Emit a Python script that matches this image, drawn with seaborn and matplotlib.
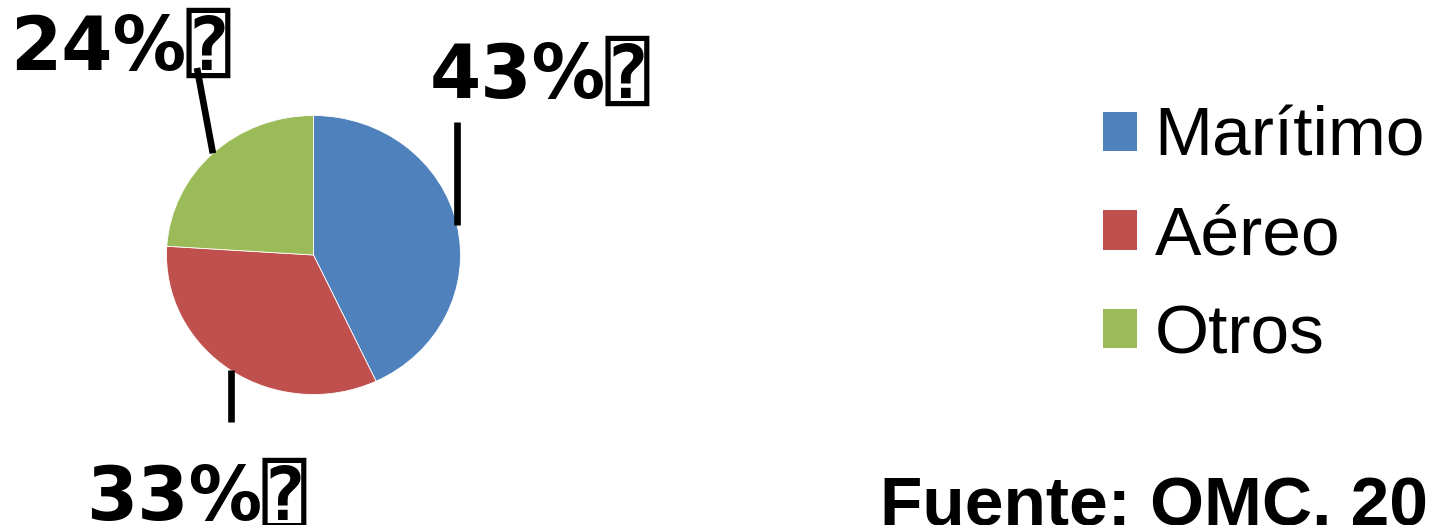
import numpy as np
import matplotlib
matplotlib.use("Agg")
import matplotlib.pyplot as plt
import seaborn as sns
from matplotlib.patches import Patch

# ---- data ----
categories = ["Marítimo", "Aéreo", "Otros"]
shares = [43, 33, 24]
labels = ["43%⍰", "33%⍰", "24%⍰"]
colors = ["#4F81BD", "#C0504D", "#9BBB59"]
source_text = "Fuente: OMC. 20"

sns.set_theme(style="white")
plt.rcParams["font.family"] = ["Liberation Sans", "DejaVu Sans"]
plt.rcParams["text.color"] = "black"
plt.rcParams["legend.labelcolor"] = "black"

W, H = 1431, 525
fig = plt.figure(figsize=(W / 100, H / 100), dpi=100)
fig.patch.set_facecolor("white")

# pie axes (slightly elliptical as in reference)
cx, cy, rx, ry = 313.5, 255.0, 147.0, 139.5
ax = fig.add_axes([(cx - rx) / W, (H - cy - ry) / H, 2 * rx / W, 2 * ry / H])
wedges, _ = ax.pie(shares, colors=colors, startangle=90, counterclock=False,
                   radius=1.0, wedgeprops=dict(linewidth=0.6, edgecolor="white"))
ax.set_xlim(-1, 1)
ax.set_ylim(-1, 1)
ax.set_aspect("auto")
ax.axis("off")

# overlay axes in pixel coordinates (origin bottom-left)
ov = fig.add_axes([0, 0, 1, 1], zorder=5)
ov.set_xlim(0, W)
ov.set_ylim(0, H)
ov.axis("off")
ov.patch.set_alpha(0)

fig.canvas.draw()
# label text anchor (left, baseline) and leader end in image pixel coords (y from top)
label_pos = [(430, 98), (86, 520), (10, 70)]
leader_end = [(None, 122), (None, 422), (197, 68)]
lab_font = ["DejaVu Sans", "DejaVu Sans Mono"]
for w, lab, (tx, ty), (ex, ey) in zip(wedges, labels, label_pos, leader_end):
    mid = np.deg2rad((w.theta1 + w.theta2) / 2)
    px, py = ax.transData.transform((np.cos(mid), np.sin(mid)))
    ex_ = px if ex is None else ex
    ov.plot([px, ex_], [py, H - ey], color="black", lw=4.8, solid_capstyle="butt")
    ov.text(tx, H - ty, lab, fontsize=53, fontweight="bold", family=lab_font,
            ha="left", va="baseline", color="black")

# legend
handles = [Patch(facecolor=c, edgecolor="none") for c in colors]
fig.legend(handles, categories, loc="upper left",
           bbox_to_anchor=(1103 / W, 1 - 106 / H), frameon=False,
           fontsize=50, handlelength=0.49, handleheight=0.49,
           handletextpad=0.25, labelspacing=0.5, borderpad=0, borderaxespad=0,
           labelcolor="black")

ov.text(880, H - 526, source_text, fontsize=50, fontweight="bold",
        ha="left", va="baseline", color="black")

fig.savefig("out.png", dpi=100, facecolor="white")
